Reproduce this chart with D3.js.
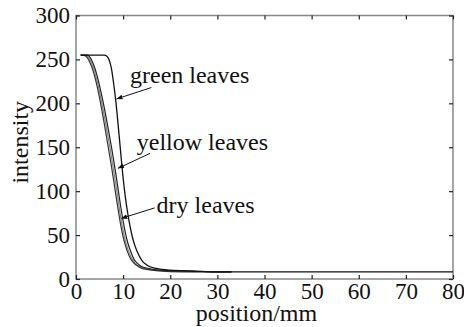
<!DOCTYPE html>
<html>
<head>
<meta charset="utf-8">
<script src="https://cdn.jsdelivr.net/npm/d3@7"></script>
<style>
  body { margin: 0; background: #fff; }
  text { font-family: "Liberation Serif", "Times New Roman", serif; fill: #111; }
</style>
</head>
<body>
<div id="chart"></div>
<script>
// position in mm (shared x grid)
let positions = [1, 2, 2.5, 3, 3.5, 4, 4.5, 5, 5.5, 6, 6.5, 7, 7.5, 8, 8.5, 9, 9.5, 10, 10.5, 11, 11.5, 12, 12.5, 13, 14, 15, 17, 20, 25, 30, 33, 40, 60, 80];

let green  = [255,255,255,255,255,255,255,255,255,255,254,250,240,222,200,172,143,115,92,74,59,47,38,31,21,16,12,10,9,8,8,8,8,8];
let yellow = [255,255,255,252,247,240,231,220,208,195,181,166,151,135,118,100,82,66,52,41,33,26,21,18,14,12.5,10.5,9.5,9,8,8,null,null,null];
let grey   = [255,255,253,249,243,235,225,213,200,186,171,156,140,123,106,88,70,55,43,34,27,22,18,16,13,11.5,10,9,8.5,8,8,null,null,null];
let dry    = [255,254,251,246,239,230,219,206,192,177,161,145,129,112,94,77,61,48,38,30,24,20,17,15,12,11,9.5,8.5,8,8,8,null,null,null];

let xTicks = [0, 10, 20, 30, 40, 50, 60, 70, 80];
let yTicks = [0, 50, 100, 150, 200, 250, 300];

// annotation labels: [text, textX, textY, arrowFromX, arrowFromY, tipX, tipY]
let labels = [
  ["green leaves", 11.46, 223, 16.0, 218, 8.6, 205],
  ["yellow leaves", 12.9, 147, 15.7, 143, 8.9, 126],
  ["dry leaves", 17.1, 75, 16.7, 81, 9.6, 69]
];

let margin = {top: 15.5, right: 11, bottom: 48, left: 76},
    width = 464 - margin.left - margin.right,
    height = 327 - margin.top - margin.bottom;

let svg = d3.select("#chart").append("svg")
    .attr("width", 464)
    .attr("height", 327);

svg.append("defs").append("marker")
    .attr("id", "arrow")
    .attr("viewBox", "0 0 10 10")
    .attr("refX", 10).attr("refY", 5)
    .attr("markerWidth", 6).attr("markerHeight", 6)
    .attr("markerUnits", "userSpaceOnUse")
    .attr("orient", "auto")
    .append("path")
    .attr("d", "M0,1 L10,5 L0,9 z")
    .attr("fill", "#111");

let g = svg.append("g")
    .attr("transform", "translate(" + margin.left + "," + margin.top + ")");

let x = d3.scaleLinear().domain([0, 80]).range([0, width]);
let y = d3.scaleLinear().domain([0, 300]).range([height, 0]);

// box
g.append("rect")
    .attr("width", width).attr("height", height)
    .attr("fill", "none").attr("stroke", "#888").attr("stroke-width", 1.5);

// inward ticks on all four sides
let xAxis = d3.axisBottom(x).tickValues(xTicks).tickSize(-4).tickPadding(4);
let yAxis = d3.axisLeft(y).tickValues(yTicks).tickSize(-4).tickPadding(6);

let gx = g.append("g").attr("transform", "translate(0," + height + ")").call(xAxis);
let gy = g.append("g").call(yAxis);
g.append("g").call(d3.axisTop(x).tickValues(xTicks).tickSize(-4).tickFormat(""));
g.append("g").attr("transform", "translate(" + width + ",0)")
    .call(d3.axisRight(y).tickValues(yTicks).tickSize(-4).tickFormat(""));

g.selectAll(".domain").remove();
g.selectAll(".tick line").attr("stroke", "#222").attr("stroke-width", 1.2);
gx.selectAll("text").style("font-size", "23px").attr("fill", "#111");
gy.selectAll("text").style("font-size", "23px").attr("fill", "#111");

// axis titles
g.append("text")
    .attr("x", width / 2 - 8).attr("y", height + 42)
    .attr("text-anchor", "middle")
    .style("font-size", "24px")
    .text("position/mm");

g.append("text")
    .attr("transform", "rotate(-90)")
    .attr("x", -height / 2 + 5).attr("y", -48)
    .attr("text-anchor", "middle")
    .style("font-size", "24px")
    .text("intensity");

// curves
let series = [
  {values: grey, color: "#888", w: 1.2},
  {values: dry, color: "#333", w: 1.2},
  {values: yellow, color: "#222", w: 1.2},
  {values: green, color: "#111", w: 1.3}
];

let line = d3.line()
    .defined(function(d){ return d[1] !== null; })
    .x(function(d){ return x(d[0]); })
    .y(function(d){ return y(d[1]); })
    .curve(d3.curveMonotoneX);

series.forEach(function(s){
  g.append("path")
    .datum(positions.map(function(p, i){ return [p, s.values[i]]; }))
    .attr("d", line)
    .attr("fill", "none")
    .attr("stroke", s.color)
    .attr("stroke-width", s.w);
});

// annotations
labels.forEach(function(l){
  g.append("text")
    .attr("x", x(l[1])).attr("y", y(l[2]))
    .style("font-size", "24px")
    .text(l[0]);
  g.append("line")
    .attr("x1", x(l[3])).attr("y1", y(l[4]))
    .attr("x2", x(l[5])).attr("y2", y(l[6]))
    .attr("stroke", "#111").attr("stroke-width", 1)
    .attr("marker-end", "url(#arrow)");
});
</script>
</body>
</html>
